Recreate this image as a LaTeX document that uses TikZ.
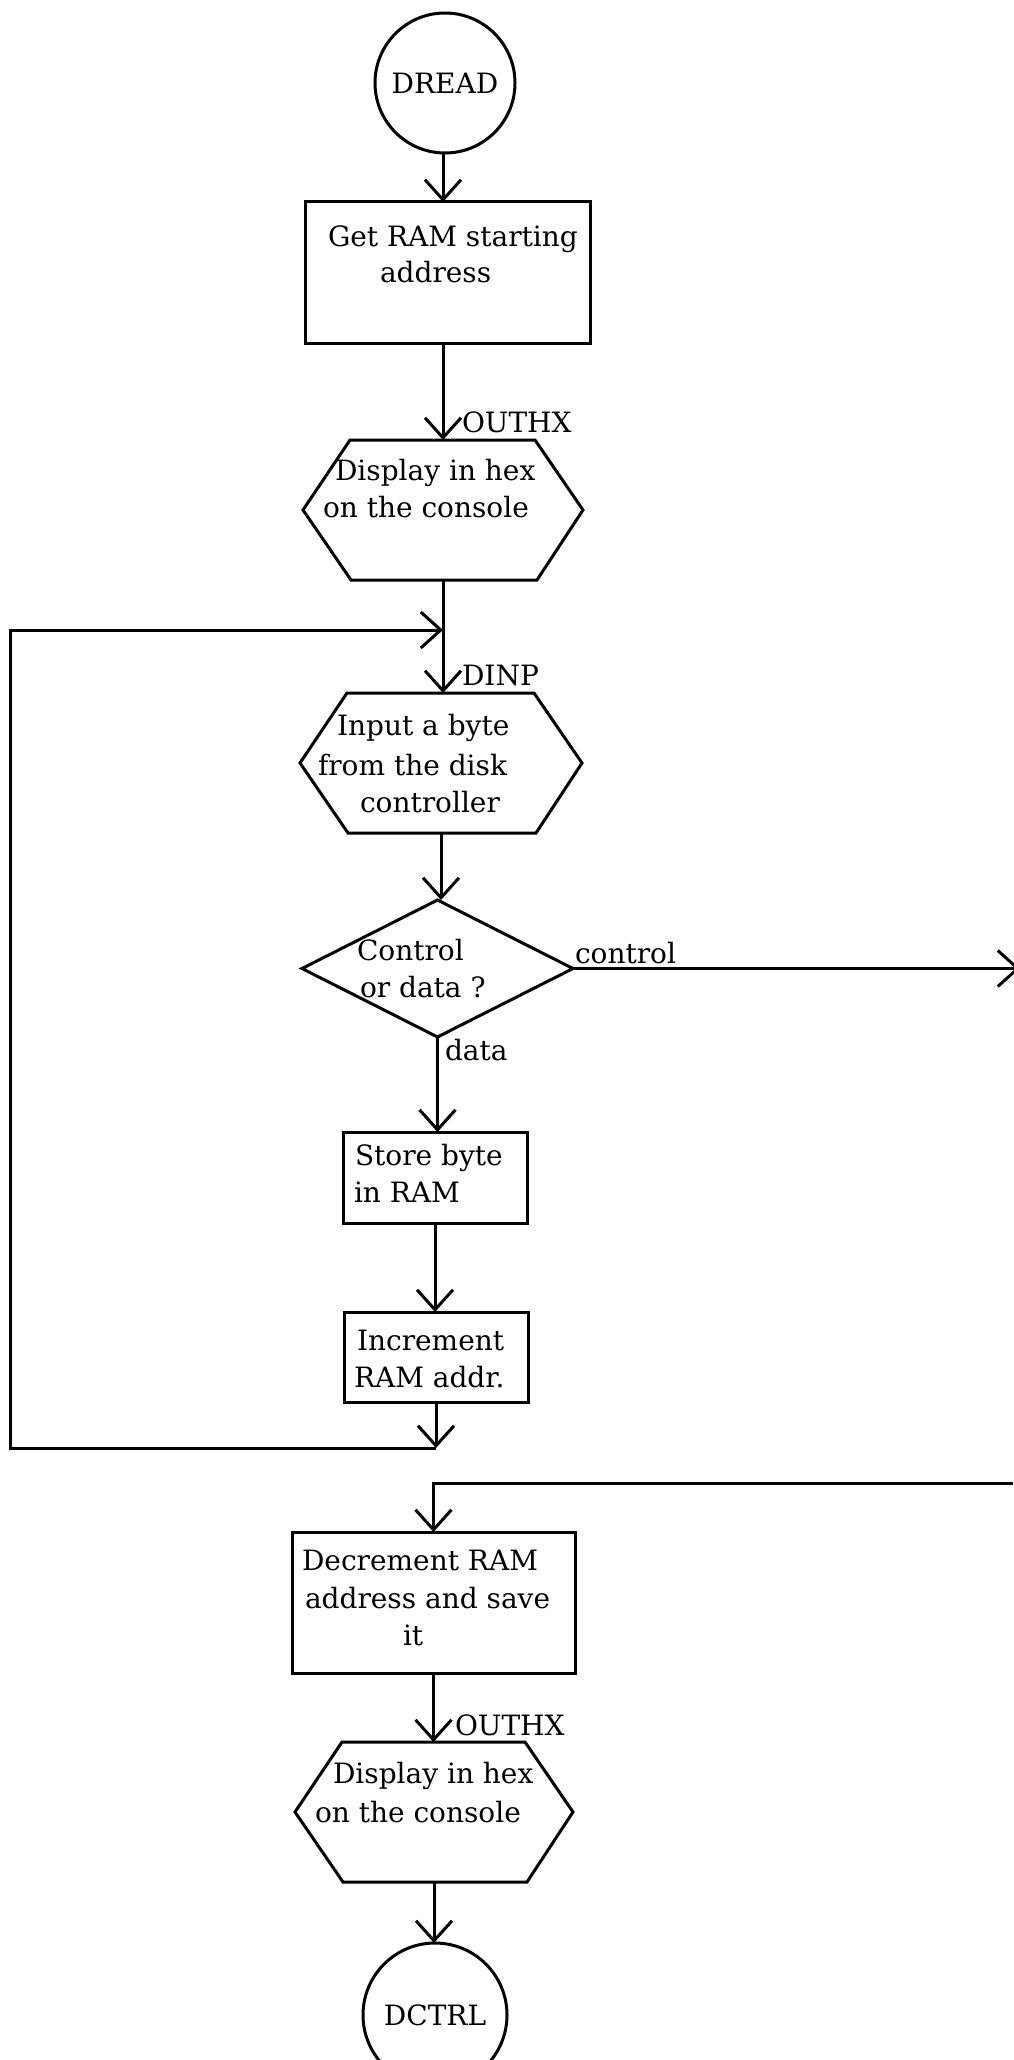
\documentclass[tikz,border=0pt]{standalone}
\usepackage{fontspec}
\setmainfont{DejaVu Serif}
\usetikzlibrary{shapes.geometric,arrows.meta,calc}
\newcommand\drawhexof[1]{\draw[ln] ($(#1.north west)+(47,0)$) -- ($(#1.north east)+(-48,0)$) -- (#1.east) -- ($(#1.south east)+(-46,0)$) -- ($(#1.south west)+(48,0)$) -- (#1.west) -- cycle;}
\begin{document}
\begin{tikzpicture}[x=0.5pt,y=-0.5pt,
  every node/.style={inner sep=0pt,outer sep=0pt},
  ln/.style={line width=1.5pt,line join=miter},
  arr/.style={ln,-{Straight Barb[length=10pt,width=18pt]}},
  frame/.style={draw,ln,rectangle},
  hexbox/.style={rectangle},
  txt/.style={anchor=base west,font=\fontsize{14pt}{17pt}\selectfont},
  conn/.style={draw,ln,circle,font=\fontsize{14pt}{17pt}\selectfont},
  dec/.style={draw,ln,diamond}]
\useasboundingbox (0,0) rectangle (1013,2060);
% shapes
\node[conn,minimum size=70pt] (dread) at (445,83) {DREAD};
\node[frame,minimum width=142.5pt,minimum height=70.5pt] (box1) at (447.5,272.5) {};
\node[hexbox,minimum width=140pt,minimum height=70pt] (hex1) at (443,510) {};
\drawhexof{hex1}
\node[hexbox,minimum width=141pt,minimum height=70pt] (hex2) at (441,763) {};
\drawhexof{hex2}
\node[dec,minimum width=135.5pt,minimum height=68.5pt] (dia) at (437.5,968.5) {};
\node[frame,minimum width=92pt,minimum height=45.5pt] (store) at (435,1177.5) {};
\node[frame,minimum width=92pt,minimum height=45pt] (incr) at (436,1357) {};
\node[frame,minimum width=141.5pt,minimum height=70.5pt] (decr) at (433.5,1602.5) {};
\node[hexbox,minimum width=139pt,minimum height=70pt] (hex3) at (434,1812) {};
\drawhexof{hex3}
\node[conn,minimum size=72pt] (dctrl) at (435,2015) {DCTRL};
% texts
\node[txt] (t1a) at (328,247) {Get RAM starting};
\node[txt] (t1b) at (380,283) {address};
\node[txt] (o1) at (462,432) {OUTHX};
\node[txt] (h1a) at (335,480) {Display in hex};
\node[txt] (h1b) at (323,517) {on the console};
\node[txt] (d1) at (462,685) {DINP};
\node[txt] (h2a) at (337,735) {Input a byte};
\node[txt] (h2b) at (318,775) {from the disk};
\node[txt] (h2c) at (360,812) {controller};
\node[txt] (q1) at (357,960) {Control};
\node[txt] (q2) at (360,997) {or data ?};
\node[txt] (lc) at (575,963) {control};
\node[txt] (ld) at (445,1060) {data};
\node[txt] (s1) at (355,1165) {Store byte};
\node[txt] (s2) at (354,1202) {in RAM};
\node[txt] (i1) at (357,1350) {Increment};
\node[txt] (i2) at (354,1387) {RAM addr.};
\node[txt] (e1) at (302,1570) {Decrement RAM};
\node[txt] (e2) at (305,1608) {address and save};
\node[txt] (e3) at (403,1645) {it};
\node[txt] (o2) at (455,1735) {OUTHX};
\node[txt] (h3a) at (333,1783) {Display in hex};
\node[txt] (h3b) at (315,1822) {on the console};
% helper coordinates
\coordinate (lft1) at (10,630);
\coordinate (lft2) at (10,1448);
\coordinate (j1) at (hex1.south |- lft1);
\coordinate (j2) at (incr.south |- lft2);
\coordinate (ctl) at (1020,970);
\coordinate (rt) at (1013,1483);
% connectors
\draw[arr] (dread.south -| hex1.north) -- (hex1.north |- box1.north);
\draw[arr] (hex1.north |- box1.south) -- (hex1.north);
\draw[arr] (hex1.south) -- (hex1.south |- hex2.north);
\draw[arr] (hex2.south) -- (hex2.south |- dia.north);
\draw[arr] (dia.south) -- (dia.south |- store.north);
\draw[arr] (store.south) -- (store.south |- incr.north);
\draw[arr] (incr.south) -- (j2);
\draw[arr] (j2) -- (lft2) -- (lft1) -- (j1);
\draw[arr] (dia.east) -- (dia.east -| ctl);
\draw[arr] (rt) -- (rt -| decr.north) -- (decr.north);
\draw[arr] (decr.south) -- (decr.south |- hex3.north);
\draw[arr] (hex3.south) -- (hex3.south |- dctrl.north);
\end{tikzpicture}
\end{document}
